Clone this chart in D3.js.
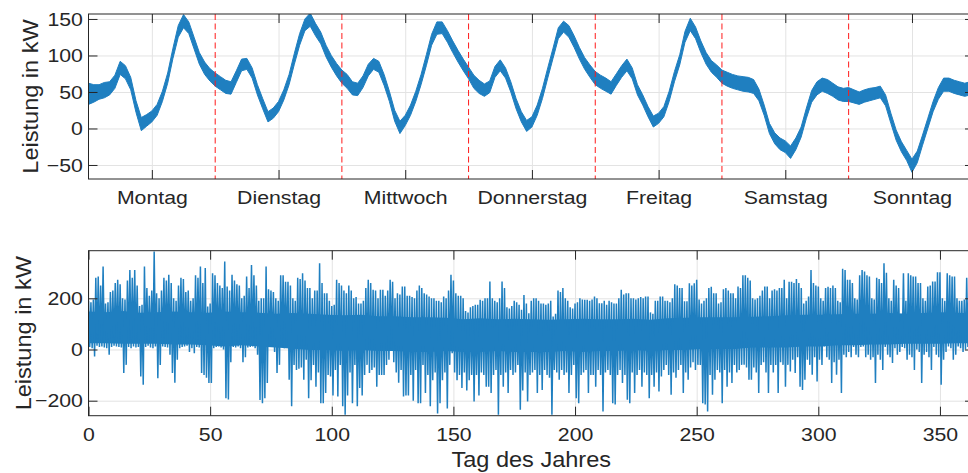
<!DOCTYPE html>
<html>
<head>
<meta charset="utf-8">
<script src="https://cdn.jsdelivr.net/npm/d3@7"></script>
<style>
  body { margin: 0; background: #fff; }
  svg { display: block; }
  text { font-family: "Liberation Sans", Arial, Helvetica, sans-serif; fill: #262626; }
</style>
</head>
<body>
<svg id="chart" width="968" height="473"></svg>
<script>
// ---- Typical week: hourly band of the measured power (kW), hour 0 = Monday 00:00
const dayNames = ["Montag", "Dienstag", "Mittwoch", "Donnerstag", "Freitag", "Samstag", "Sonntag"];
const dayBoundaries = [24, 48, 72, 96, 120, 144];
const weekTicks = [-50, 0, 50, 100, 150];

const weekHigh = [
  62, 60, 60, 63, 64, 73, 92, 86, 70, 38, 15, 19, 24, 33, 51, 76, 110, 141, 156, 146, 125, 104, 91, 82,
  76, 71, 66, 64, 79, 95, 96, 83, 60, 41, 23, 28, 37, 53, 74, 103, 130, 150, 158, 144, 132, 114, 100, 89,
  80, 74, 64, 62, 72, 88, 96, 92, 74, 51, 25, 10, 18, 32, 51, 74, 101, 129, 146, 146, 134, 120, 107, 95,
  84, 73, 66, 61, 65, 85, 94, 83, 64, 41, 23, 11, 16, 32, 55, 83, 110, 138, 147, 141, 127, 111, 97, 87,
  78, 73, 69, 64, 75, 86, 95, 83, 60, 46, 30, 17, 21, 30, 51, 78, 101, 133, 151, 139, 120, 104, 93, 87,
  80, 77, 74, 72, 71, 70, 67, 54, 32, 7, -6, -13, -17, -24, -13, 2, 28, 52, 64, 69, 67, 62, 57, 55,
  56, 53, 50, 53, 55, 56, 58, 46, 21, -2, -18, -30, -42, -31, -9, 14, 37, 56, 69, 69, 66, 64, 62, 64
];
const weekLow = [
  33, 36, 40, 42, 46, 55, 74, 68, 53, 22, -3, 3, 9, 18, 37, 62, 96, 125, 138, 130, 109, 88, 74, 65,
  58, 53, 48, 47, 63, 79, 81, 69, 46, 27, 9, 14, 23, 39, 60, 88, 114, 134, 140, 127, 116, 98, 84, 72,
  62, 55, 46, 45, 56, 72, 81, 77, 59, 37, 10, -7, 4, 18, 37, 60, 86, 114, 129, 130, 118, 104, 91, 79,
  68, 55, 48, 44, 49, 70, 79, 69, 50, 27, 9, -4, 2, 18, 41, 69, 96, 123, 132, 125, 111, 95, 81, 70,
  60, 55, 51, 47, 59, 70, 79, 68, 46, 32, 16, 2, 7, 16, 37, 64, 87, 118, 134, 123, 104, 88, 77, 70,
  62, 58, 55, 53, 51, 50, 48, 38, 18, -7, -21, -29, -33, -41, -29, -12, 14, 36, 46, 51, 48, 44, 39, 37,
  37, 35, 33, 36, 38, 40, 42, 31, 7, -16, -32, -44, -60, -47, -23, 0, 23, 40, 51, 51, 48, 46, 44, 46
];

// ---- Whole year: daily extremes of the power (kW), day 0 .. 364
const yearTicks = [0, 50, 100, 150, 200, 250, 300, 350];
const yearPowerTicks = [-200, 0, 200];

const dayMax = [
  190, 185, 195, 280, 285, 250, 324,
  180, 185, 225, 230, 260, 272, 255,
  200, 195, 270, 311, 280, 311, 250,
  170, 175, 324, 240, 210, 230, 383,
  220, 200, 230, 280, 270, 292, 260,
  200, 190, 250, 280, 275, 225, 230,
  190, 200, 290, 280, 324, 260, 318,
  168, 180, 298, 290, 260, 250, 240,
  344, 246, 230, 292, 270, 255, 250,
  200, 210, 285, 240, 330, 290, 250,
  190, 200, 200, 324, 235, 230, 225,
  200, 190, 290, 290, 265, 265, 250,
  200, 190, 280, 275, 298, 270, 240,
  240, 200, 230, 230, 337, 260, 220,
  220, 190, 170, 175, 272, 260, 250,
  230, 220, 250, 230, 200, 205, 180,
  180, 190, 240, 272, 260, 233, 230,
  200, 233, 233, 210, 230, 272, 265,
  200, 220, 215, 246, 246, 210, 210,
  205, 200, 230, 250, 240, 220, 215,
  207, 200, 200, 190, 190, 185, 207,
  200, 230, 292, 270, 220, 210, 210,
  200, 150, 145, 165, 170, 175, 175,
  194, 190, 200, 200, 266, 200, 190,
  185, 200, 266, 240, 165, 160, 170,
  190, 185, 175, 155, 213, 180, 142,
  190, 200, 200, 190, 180, 180, 175,
  180, 190, 129, 140, 230, 225, 240,
  200, 190, 165, 160, 180, 185, 200,
  195, 194, 194, 190, 195, 207, 200,
  181, 181, 190, 175, 190, 185, 180,
  180, 200, 233, 215, 220, 220, 200,
  200, 195, 200, 205, 200, 207, 207,
  145, 140, 190, 190, 207, 207, 190,
  190, 185, 200, 255, 250, 240, 240,
  188, 188, 259, 250, 259, 272, 195,
  180, 190, 200, 240, 245, 220, 220,
  180, 185, 235, 240, 230, 220, 220,
  200, 246, 240, 290, 290, 280, 270,
  200, 195, 200, 210, 230, 246, 246,
  200, 230, 235, 230, 240, 240, 272,
  200, 265, 265, 260, 275, 260, 240,
  180, 190, 207, 311, 260, 250, 246,
  200, 190, 240, 245, 240, 250, 240,
  190, 185, 315, 311, 272, 272, 260,
  200, 195, 290, 311, 305, 290, 285,
  200, 195, 280, 275, 260, 337, 300,
  200, 190, 272, 250, 240, 140, 298,
  190, 298, 290, 285, 285, 260, 260,
  200, 190, 246, 250, 266, 266, 302,
  302, 200, 190, 298, 290, 285, 285,
  200, 190, 190, 195, 280, 290, 270,
  270
];
const dayMin = [
  10, 5, -27, 15, 10, 12, 8,
  5, -20, 10, 15, 12, 10, 8,
  -92, -60, 10, 5, 12, 8, 10,
  -105, -138, 10, 15, 8, 5, 12,
  -112, -60, 12, 10, 8, -20, -92,
  -130, -40, 5, 10, 12, 15, -10,
  5, -15, 10, 8, -92, -100, -110,
  -131, -131, 5, 10, 12, 8, 0,
  -190, -195, -50, 10, 8, 12, 5,
  -50, -30, 8, 10, 12, 5, -20,
  -197, -210, -190, -131, 10, 12, -10,
  -92, -60, 10, 5, 8, -118, -222,
  -60, -80, -75, -70, -118, -40, -190,
  -120, -60, -145, -90, -210, -210, -170,
  -100, -105, -180, -80, -184, -60, -222,
  -255, -180, -90, -210, -60, -222, -150,
  -180, -100, -60, -92, -80, -70, -145,
  -100, -100, -100, -60, -40, 5, -50,
  -90, -130, -80, -184, -180, -180, -100,
  -200, -80, -210, -210, -60, -170, -100,
  -222, -120, -90, -250, -210, -120, -90,
  -230, -60, -15, -90, -120, -100, -150,
  -90, -160, -120, -100, -203, -100, -180,
  -90, -100, -145, -145, -170, -100, -80,
  -255, -100, -145, -90, -170, -80, -100,
  -90, -60, -235, -160, -90, -203, -100,
  -90, -80, -170, -100, -158, -80, -100,
  -110, -255, -80, -90, -118, -80, -100,
  -90, -170, -100, -60, -190, -210, -100,
  -90, -80, -170, -100, -100, -145, -80,
  -100, -242, -90, -80, -100, -210, -215,
  -100, -80, -131, -100, -196, -210, -90,
  -170, -100, -80, -145, -90, -100, -190,
  -100, -145, -90, -164, -105, -80, -60,
  -100, -177, -90, -110, -80, -60, -170,
  -90, -118, -70, -50, -80, -60, -60,
  -210, -215, -242, -100, -177, -118, -80,
  -90, -210, -80, -145, -90, -131, -60,
  -90, -80, -60, -60, -70, -118, -118,
  -70, -90, -170, -60, -50, -90, -170,
  -60, -90, -60, -170, -50, -60, -145,
  -60, -86, -40, -92, -30, -145, -158,
  -118, -40, -60, -99, -30, -125, -40,
  -60, 12, -30, -40, -131, -50, -99,
  -40, -170, -20, -30, -10, -30, 10,
  -20, -30, 10, 12, -30, -20, -40,
  -30, -131, -20, -40, -80, 10, -20,
  -30, -53, 5, -20, -10, 10, 5,
  -40, -20, -30, -80, 0, -10, -131,
  -20, -10, -30, -80, 10, -20, -30,
  -138, -40, -10, 12, 5, -40, -20,
  12, 5, -10, 0, 10, -20, -10,
  10
];

// Densest part of the hourly values, per week (kW), weeks 0 .. 52
const weeklyCoreHigh = [
  148, 146, 150, 144, 146, 148, 146, 144, 148, 146, 144, 140, 143, 140, 136, 134, 136, 130,
  130, 126, 126, 124, 118, 122, 118, 120, 118, 116, 118, 120, 118, 118, 120, 116, 122, 124,
  126, 126, 126, 128, 130, 134, 136, 136, 138, 140, 140, 143, 140, 143, 146, 144, 140
];
const weeklyCoreLow = [
  24, 24, 22, 22, 22, 20, 20, 17, 12, 17, 12, 8, 3, -2, -2, -6, -2, -6,
  -6, -10, -10, -6, -10, -10, -6, -10, -10, -10, -6, -10, -6, -6, -2, -6, -2, -2,
  2, 2, 2, 8, 8, 8, 12, 12, 17, 17, 20, 20, 22, 22, 22, 24, 24
];

// ---- Layout and styles
const LINE = "#1f7fc0";
const AXIS = "#262626";
const GRID = "#e3e3e3";
const TICK_LEN = 9;
const TICK_STRETCH = 1.12;   // the tick font is drawn slightly wide
const LABEL_STRETCH = 1.07;

const frame = { left: 88.5, right: 974 };
const topPanel = { top: 14, bottom: 179 };
const botPanel = { top: 250.7, bottom: 415.7 };

const svg = d3.select("#chart");

const defs = svg.append("defs");
function clip(id, p) {
  defs.append("clipPath").attr("id", id)
    .append("rect")
    .attr("x", frame.left).attr("y", p.top)
    .attr("width", frame.right - frame.left).attr("height", p.bottom - p.top);
}
clip("clipTop", topPanel);
clip("clipBot", botPanel);

// Light grid behind the data
function drawGrid(x, y, p, xTicks, yTicks) {
  const g = svg.append("g");
  g.append("g")
    .attr("transform", `translate(${frame.left},0)`)
    .call(d3.axisLeft(y).tickValues(yTicks).tickSize(-(frame.right - frame.left)).tickFormat(""))
    .call(s => s.select(".domain").remove())
    .call(s => s.selectAll("line").attr("stroke", GRID).attr("stroke-width", 1));
  g.append("g")
    .attr("transform", `translate(0,${p.bottom})`)
    .call(d3.axisBottom(x).tickValues(xTicks).tickSize(-(p.bottom - p.top)).tickFormat(""))
    .call(s => s.select(".domain").remove())
    .call(s => s.selectAll("line").attr("stroke", GRID).attr("stroke-width", 1));
  return g;
}

// Box with inward ticks on all four sides, labels left and bottom
function drawAxes(x, y, p, xTicks, xFormat, yTicks) {
  const g = svg.append("g");
  g.append("rect")
    .attr("x", frame.left).attr("y", p.top)
    .attr("width", frame.right - frame.left).attr("height", p.bottom - p.top)
    .attr("fill", "none").attr("stroke", AXIS).attr("stroke-width", 1);

  const styleTicks = s => {
    s.select(".domain").remove();
    s.selectAll("line").attr("stroke", AXIS).attr("stroke-width", 1);
  };
  const styleLabels = s => s.selectAll("text")
    .attr("font-size", 19).attr("fill", AXIS)
    .attr("font-family", '"Liberation Sans", Arial, sans-serif')
    .attr("transform", `scale(${TICK_STRETCH},1)`);

  g.append("g")
    .attr("transform", `translate(${frame.left},0)`)
    .call(d3.axisLeft(y).tickValues(yTicks).tickSizeInner(-TICK_LEN).tickSizeOuter(0).tickPadding(5).tickFormat(d3.format("d")))
    .call(styleTicks).call(styleLabels);
  g.append("g")
    .attr("transform", `translate(${frame.right},0)`)
    .call(d3.axisRight(y).tickValues(yTicks).tickSizeInner(-TICK_LEN).tickSizeOuter(0).tickFormat(""))
    .call(styleTicks);
  g.append("g")
    .attr("transform", `translate(0,${p.bottom})`)
    .call(d3.axisBottom(x).tickValues(xTicks).tickSizeInner(-TICK_LEN).tickSizeOuter(0).tickPadding(12).tickFormat(xFormat))
    .call(styleTicks).call(styleLabels);
  g.append("g")
    .attr("transform", `translate(0,${p.top})`)
    .call(d3.axisTop(x).tickValues(xTicks).tickSizeInner(-TICK_LEN).tickSizeOuter(0).tickFormat(""))
    .call(styleTicks);
  return g;
}

function yLabel(text, xBase, p) {
  const cy = (p.top + p.bottom) / 2;
  svg.append("text")
    .attr("transform", `translate(${xBase},${cy}) rotate(-90) scale(${LABEL_STRETCH},1)`)
    .attr("text-anchor", "middle")
    .attr("font-size", 22)
    .text(text);
}

// ================= Top panel: one week =================
const xWeek = d3.scaleLinear().domain([0, 167.75]).range([frame.left, frame.right]);
const yWeek = d3.scaleLinear().domain([-69.2, 156.8]).range([topPanel.bottom, topPanel.top]);
const dayCenters = dayNames.map((_, i) => i * 24 + 12);

drawGrid(xWeek, yWeek, topPanel, dayCenters, weekTicks);

const weekBand = d3.area()
  .x((d, i) => xWeek(i))
  .y0((d, i) => yWeek(weekLow[i]))
  .y1(d => yWeek(d));

svg.append("g").attr("clip-path", "url(#clipTop)")
  .append("path")
  .datum(weekHigh)
  .attr("d", weekBand)
  .attr("fill", LINE)
  .attr("stroke", LINE)
  .attr("stroke-width", 1)
  .attr("stroke-linejoin", "round");

// day boundaries
svg.append("g").selectAll("line")
  .data(dayBoundaries)
  .join("line")
  .attr("x1", d => xWeek(d)).attr("x2", d => xWeek(d))
  .attr("y1", topPanel.top).attr("y2", topPanel.bottom)
  .attr("stroke", "#ff1a1a")
  .attr("stroke-width", 1)
  .attr("stroke-dasharray", "6,3.5");

drawAxes(xWeek, yWeek, topPanel, dayCenters, (d, i) => dayNames[i], weekTicks);
yLabel("Leistung in kW", 37.5, topPanel);

// ================= Bottom panel: whole year =================
const xYear = d3.scaleLinear().domain([0, 364]).range([frame.left, frame.right]);
const yYear = d3.scaleLinear().domain([-258.6, 386]).range([botPanel.bottom, botPanel.top]);

drawGrid(xYear, yYear, botPanel, yearTicks, yearPowerTicks);

const yearLayer = svg.append("g").attr("clip-path", "url(#clipBot)");

// densest part of the hourly values
yearLayer.append("path")
  .datum(weeklyCoreHigh)
  .attr("d", d3.area()
    .x((d, i) => xYear(i * 7))
    .y0((d, i) => yYear(weeklyCoreLow[i]))
    .y1(d => yYear(d)))
  .attr("fill", LINE);

// daily swing: maximum then minimum of each day
const yearPoints = [];
dayMax.forEach((v, d) => {
  yearPoints.push([d, v]);
  yearPoints.push([d + 0.5, dayMin[d]]);
});

yearLayer.append("path")
  .datum(yearPoints)
  .attr("d", d3.line().x(d => xYear(d[0])).y(d => yYear(d[1])))
  .attr("fill", "none")
  .attr("stroke", LINE)
  .attr("stroke-width", 1.5)
  .attr("stroke-linejoin", "miter");

drawAxes(xYear, yYear, botPanel, yearTicks, d3.format("d"), yearPowerTicks);
yLabel("Leistung in kW", 30.5, botPanel);

svg.append("text")
  .attr("transform", `translate(${(frame.left + frame.right) / 2},466.5) scale(${LABEL_STRETCH},1)`)
  .attr("text-anchor", "middle")
  .attr("font-size", 22)
  .text("Tag des Jahres");
</script>
</body>
</html>
